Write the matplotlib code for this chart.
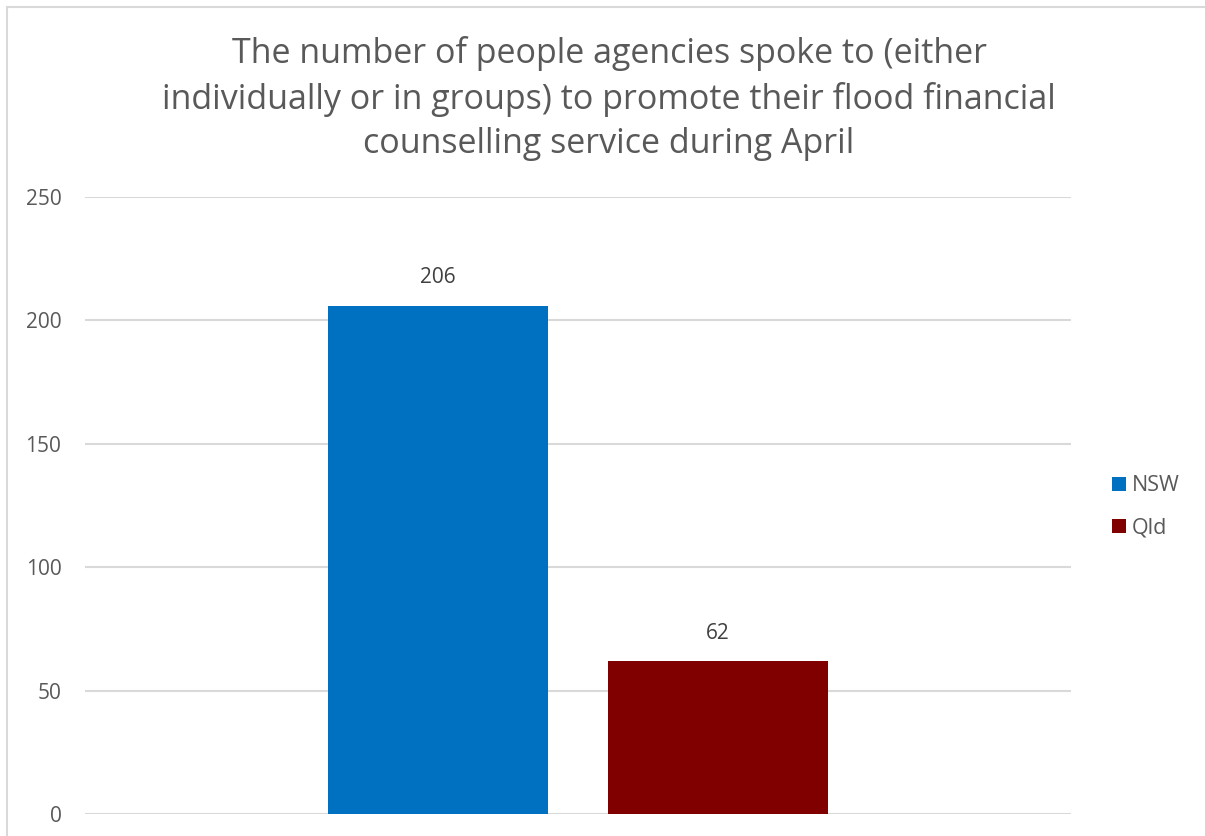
import matplotlib.pyplot as plt
from matplotlib.patches import Rectangle

# April outreach counts by state
states = ["NSW", "Qld"]
people = [206, 62]
colours = ["#0070C0", "#800000"]
title = ("The number of people agencies spoke to (either\n"
         "individually or in groups) to promote their flood financial\n"
         "counselling service during April")

plt.rcParams['font.family'] = ['Open Sans', 'DejaVu Sans']

W, H = 1205, 836
fig = plt.figure(figsize=(W / 100, H / 100), dpi=100)

# chart-area border (runs off the right and bottom edges)
fig.patches.append(Rectangle((7 / W, -0.1), 1.2, (H - 7) / H + 0.1,
                             transform=fig.transFigure, fill=False,
                             edgecolor="#D9D9D9", linewidth=1.5))

ax = fig.add_axes([85 / W, 22 / H, (1071 - 85) / W, (814 - 197) / H])

bar_w = 0.2231
gap = 0.0605
centre = 0.5
for i, (s, v, c) in enumerate(zip(states, people, colours)):
    x = centre + (i - 0.5) * (bar_w + gap)
    ax.bar(x, v, width=bar_w, color=c, label=s, zorder=3)
    ax.text(x, v + 7, str(v), ha="center", va="bottom",
            fontsize=15, color="#404040")

ax.set_xlim(0, 1)
ax.set_ylim(0, 250)
ax.set_yticks(range(0, 251, 50))
ax.yaxis.grid(True, color="#D9D9D9", linewidth=1.5, zorder=0)
ax.set_xticks([])
for sp in ax.spines.values():
    sp.set_visible(False)
ax.tick_params(axis="y", length=0, pad=17, labelsize=15, labelcolor="#595959")

fig.text(609 / W, 1 - 36 / H, title, ha="center", va="top",
         fontsize=24.5, color="#595959", linespacing=1.4)

leg = fig.legend(loc="center left", bbox_to_anchor=(1093 / W, 1 - 507 / H),
                 frameon=False, fontsize=15.5, handlelength=0.62,
                 handleheight=0.62, handletextpad=0.27, labelspacing=1.0)
for t in leg.get_texts():
    t.set_color("#595959")

fig.savefig("out.png", dpi=100)
